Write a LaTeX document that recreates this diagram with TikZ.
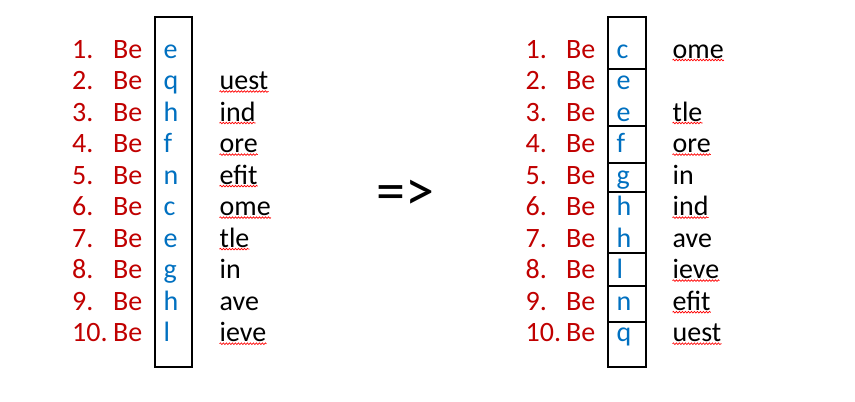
\documentclass[tikz,border=0pt]{standalone}
\usepackage{fontspec}
\setmainfont{Carlito}
\usetikzlibrary{decorations.pathmorphing}
\definecolor{bered}{HTML}{C00000}
\definecolor{letblue}{HTML}{0070C0}

\begin{document}
\begin{tikzpicture}[x=1pt, y=-1pt,
  font=\fontsize{28}{32}\selectfont,
  txt/.style={anchor=base west, inner sep=0pt},
  num/.style={txt, text=bered},
  be/.style={txt, text=bered},
  lett/.style={txt, text=letblue},
  word/.style={txt, text=black},
  col/.style={draw, line width=2pt, outer sep=0pt, minimum height=350pt},
  squig/.style={draw=red, line width=.7pt, decorate, decoration={snake, amplitude=.8pt, segment length=3pt}},
  ]
\useasboundingbox (0,0) rectangle (855,402);

% left list
\path (173.5,192) node[col, minimum width=37pt](lcol){};
\path (72,58) node[num](ln1){1.} (113,58) node[be](lb1){Be} (163.5,58) node[lett](ll1){e};
\path (72,89.5) node[num](ln2){2.} (113,89.5) node[be](lb2){Be} (163.5,89.5) node[lett](ll2){q} (219.5,89.5) node[word](lw2){uest};
\path (72,121) node[num](ln3){3.} (113,121) node[be](lb3){Be} (163.5,121) node[lett](ll3){h} (219.5,121) node[word](lw3){ind};
\path (72,152.6) node[num](ln4){4.} (113,152.6) node[be](lb4){Be} (163.5,152.6) node[lett](ll4){f} (219.5,152.6) node[word](lw4){ore};
\path (72,184.1) node[num](ln5){5.} (113,184.1) node[be](lb5){Be} (163.5,184.1) node[lett](ll5){n} (219.5,184.1) node[word](lw5){efit};
\path (72,215.6) node[num](ln6){6.} (113,215.6) node[be](lb6){Be} (163.5,215.6) node[lett](ll6){c} (219.5,215.6) node[word](lw6){ome};
\path (72,247.1) node[num](ln7){7.} (113,247.1) node[be](lb7){Be} (163.5,247.1) node[lett](ll7){e} (219.5,247.1) node[word](lw7){tle};
\path (72,278.6) node[num](ln8){8.} (113,278.6) node[be](lb8){Be} (163.5,278.6) node[lett](ll8){g} (219.5,278.6) node[word](lw8){in};
\path (72,310.2) node[num](ln9){9.} (113,310.2) node[be](lb9){Be} (163.5,310.2) node[lett](ll9){h} (219.5,310.2) node[word](lw9){ave};
\path (72,341.7) node[num](ln10){10.} (113,341.7) node[be](lb10){Be} (163.5,341.7) node[lett](ll10){l} (219.5,341.7) node[word](lw10){ieve};

\path (405.5,210) node[anchor=base, inner sep=0pt, font=\fontsize{58}{62}\selectfont](impl){=>};

% right list, sorted
\path (627,192) node[col, minimum width=38pt](rcol){};
\path (525.5,58) node[num](rn1){1.} (566,58) node[be](rb1){Be} (616.5,58) node[lett](rl1){c} (672.5,58) node[word](rw1){ome};
\path (525.5,89.5) node[num](rn2){2.} (566,89.5) node[be](rb2){Be} (616.5,89.5) node[lett](rl2){e};
\path (525.5,121) node[num](rn3){3.} (566,121) node[be](rb3){Be} (616.5,121) node[lett](rl3){e} (672.5,121) node[word](rw3){tle};
\path (525.5,152.6) node[num](rn4){4.} (566,152.6) node[be](rb4){Be} (616.5,152.6) node[lett](rl4){f} (672.5,152.6) node[word](rw4){ore};
\path (525.5,184.1) node[num](rn5){5.} (566,184.1) node[be](rb5){Be} (616.5,184.1) node[lett](rl5){g} (672.5,184.1) node[word](rw5){in};
\path (525.5,215.6) node[num](rn6){6.} (566,215.6) node[be](rb6){Be} (616.5,215.6) node[lett](rl6){h} (672.5,215.6) node[word](rw6){ind};
\path (525.5,247.1) node[num](rn7){7.} (566,247.1) node[be](rb7){Be} (616.5,247.1) node[lett](rl7){h} (672.5,247.1) node[word](rw7){ave};
\path (525.5,278.6) node[num](rn8){8.} (566,278.6) node[be](rb8){Be} (616.5,278.6) node[lett](rl8){l} (672.5,278.6) node[word](rw8){ieve};
\path (525.5,310.2) node[num](rn9){9.} (566,310.2) node[be](rb9){Be} (616.5,310.2) node[lett](rl9){n} (672.5,310.2) node[word](rw9){efit};
\path (525.5,341.7) node[num](rn10){10.} (566,341.7) node[be](rb10){Be} (616.5,341.7) node[lett](rl10){q} (672.5,341.7) node[word](rw10){uest};

% group dividers
\path (rcol.north east) ++(0,52) [draw, line width=2pt] coordinate(d1) -- (d1 -| rcol.west);
\path (rcol.north east) ++(0,109) [draw, line width=2pt] coordinate(d2) -- (d2 -| rcol.west);
\path (rcol.north east) ++(0,146) [draw, line width=2pt] coordinate(d3) -- (d3 -| rcol.west);
\path (rcol.north east) ++(0,175) [draw, line width=2pt] coordinate(d4) -- (d4 -| rcol.west);
\path (rcol.north east) ++(0,236) [draw, line width=2pt] coordinate(d5) -- (d5 -| rcol.west);
\path (rcol.north east) ++(0,269) [draw, line width=2pt] coordinate(d6) -- (d6 -| rcol.west);
\path (rcol.north east) ++(0,305) [draw, line width=2pt] coordinate(d7) -- (d7 -| rcol.west);

% spell check marks
\foreach \w in {lw2,lw3,lw4,lw5,lw6,lw7,lw10,rw1,rw3,rw4,rw6,rw8,rw9,rw10}
  \path[squig] ([yshift=-2pt]\w.base west) -- ([yshift=-2pt]\w.base east);

\end{tikzpicture}
\end{document}
